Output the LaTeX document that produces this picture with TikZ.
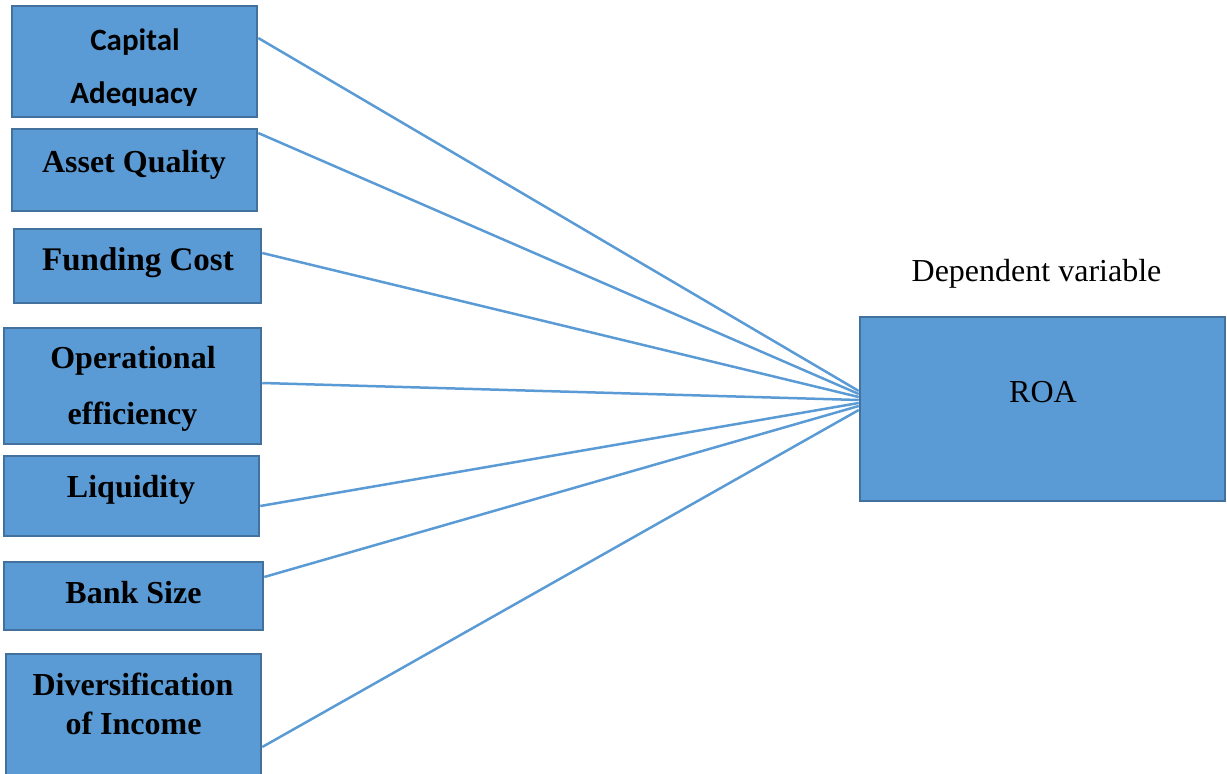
\documentclass[tikz,border=0pt]{standalone}
\usepackage{fontspec}
\setmainfont{Liberation Serif}
\newfontfamily\calfont{Carlito}
\definecolor{boxfill}{HTML}{5B9BD5}
\definecolor{boxedge}{HTML}{41719C}
\begin{document}
\begin{tikzpicture}[x=1pt,y=-1pt,
  box/.style={draw=boxedge, fill=boxfill, line width=2.5pt, rectangle, inner sep=0pt},
  lbl/.style={font=\fontsize{32}{36}\selectfont\bfseries, anchor=base, inner sep=0pt},
  plain/.style={font=\fontsize{32}{36}\selectfont, anchor=base, inner sep=0pt},
  link/.style={draw=boxfill, line width=2.5pt}]
\useasboundingbox (0,0) rectangle (1227,774);
% boxes
\node[box, minimum width=245pt, minimum height=111pt] (cap) at (134.5,61.5) {};
\node[box, minimum width=245pt, minimum height=82pt]  (asq) at (134.5,170) {};
\node[box, minimum width=247pt, minimum height=74pt]  (fun) at (137.5,266) {};
\node[box, minimum width=257pt, minimum height=116pt] (ope) at (132.5,386) {};
\node[box, minimum width=255pt, minimum height=80pt]  (liq) at (131.5,496) {};
\node[box, minimum width=259pt, minimum height=68pt]  (siz) at (133.5,596) {};
\node[box, minimum width=255pt, minimum height=130pt] (div) at (133.5,719) {};
\node[box, minimum width=365pt, minimum height=184pt] (roa) at (1042.5,409) {};
% texts
\begin{scope}
\clip (12,6) rectangle (257,105);
\node[lbl, font=\fontsize{31}{36}\selectfont\calfont\bfseries] (cap1) at (135,50) {Capital};
\node[lbl, font=\fontsize{31}{36}\selectfont\calfont\bfseries] (cap2) at (134,103) {Adequacy};
\end{scope}
\node[lbl] (asqt) at (134,172) {Asset Quality};
\node[lbl, font=\fontsize{33}{36}\selectfont\bfseries] (funt) at (138,270) {Funding Cost};
\node[lbl] (ope1) at (133,368) {Operational};
\node[lbl] (ope2) at (132.5,424) {efficiency};
\node[lbl] (liqt) at (131,497) {Liquidity};
\node[lbl] (sizt) at (133.5,603) {Bank Size};
\node[lbl] (div1) at (133,695) {Diversification};
\node[lbl] (div2) at (133.5,734) {of Income};
\node[plain] (dep) at (1036.5,281) {Dependent variable};
\node[plain] (roat) at (1043,402) {ROA};
% connectors
\draw[link] ([yshift=23.5pt]cap.east) -- ([yshift=18pt]roa.west);
\draw[link] ([yshift=37pt]asq.east) -- ([yshift=15pt]roa.west);
\draw[link] ([yshift=13pt]fun.east) -- ([yshift=12pt]roa.west);
\draw[link] ([yshift=3pt]ope.east) -- ([yshift=9pt]roa.west);
\draw[link] ([yshift=-10pt]liq.east) -- ([yshift=6pt]roa.west);
\draw[link] ([yshift=19pt]siz.east) -- ([yshift=3pt]roa.west);
\draw[link] ([yshift=-28pt]div.east) -- ([yshift=-1pt]roa.west);
\end{tikzpicture}
\end{document}
